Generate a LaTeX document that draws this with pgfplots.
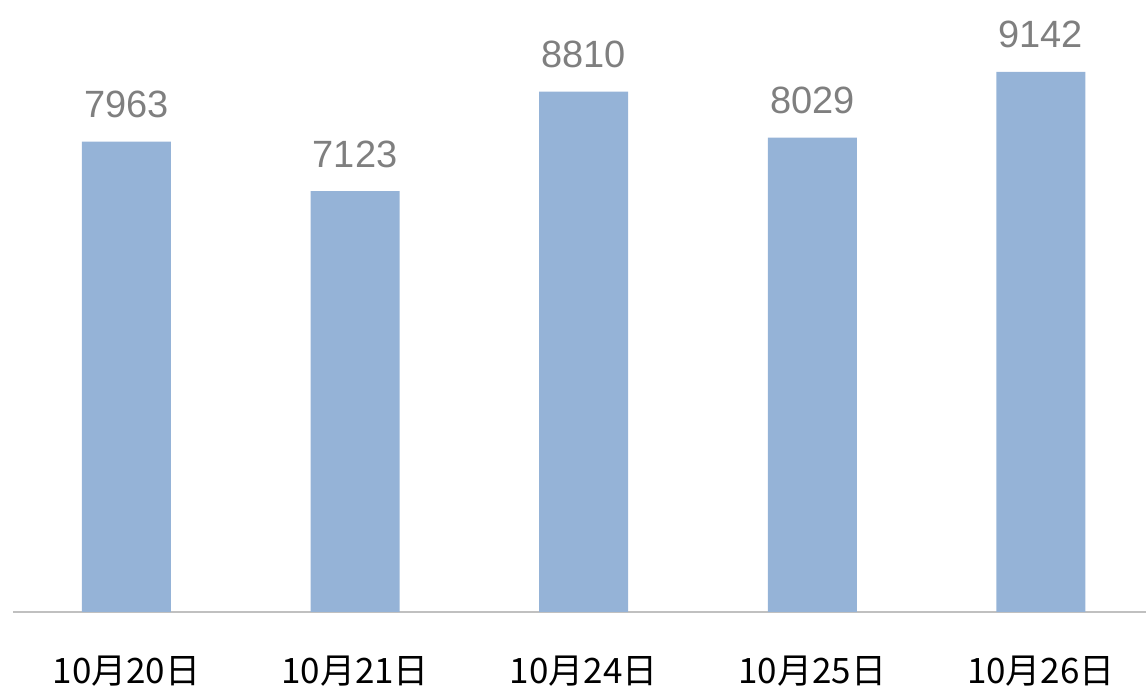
\documentclass[border=0pt]{standalone}
\usepackage{pgfplots}
\pgfplotsset{compat=1.18}
\usepackage{fontspec}
\setmainfont{Liberation Sans}
\newfontfamily\cjk{Noto Sans CJK SC}
\definecolor{barblue}{HTML}{95B3D7}
\definecolor{valgray}{HTML}{7F7F7F}
\definecolor{axgray}{HTML}{C0C0C0}
\begin{document}
\begin{tikzpicture}[x=1bp,y=1bp]
\useasboundingbox (0,0) rectangle (1146,688);
\begin{axis}[
  at={(13bp,76bp)}, anchor=south west,
  scale only axis,
  width=1133bp, height=612bp,
  xmin=-0.4965, xmax=4.46,
  ymin=0, ymax=10360,
  axis y line=none,
  axis x line*=bottom,
  x axis line style={draw=axgray, line width=1.5bp, -},
  xtick={0,1,2,3,4},
  xticklabels={10月20日,10月21日,10月24日,10月25日,10月26日},
  xtick style={draw=none},
  xticklabel style={font=\cjk\fontsize{35bp}{40bp}\selectfont, anchor=base, yshift=-67bp, inner sep=0pt, text=black},
  ybar, bar width=89bp,
  nodes near coords={\pgfmathprintnumber[fixed, precision=0, 1000 sep={}, assume math mode=true]{\pgfplotspointmeta}},
  every node near coord/.append style={font=\fontsize{38bp}{44bp}\selectfont, text=valgray, anchor=base, inner sep=0pt, yshift=24bp},
  clip=false,
]
\addplot[fill=barblue, draw=none] coordinates {(0,7963) (1,7123) (2,8810) (3,8029) (4,9142)};
\end{axis}
\end{tikzpicture}
\end{document}
